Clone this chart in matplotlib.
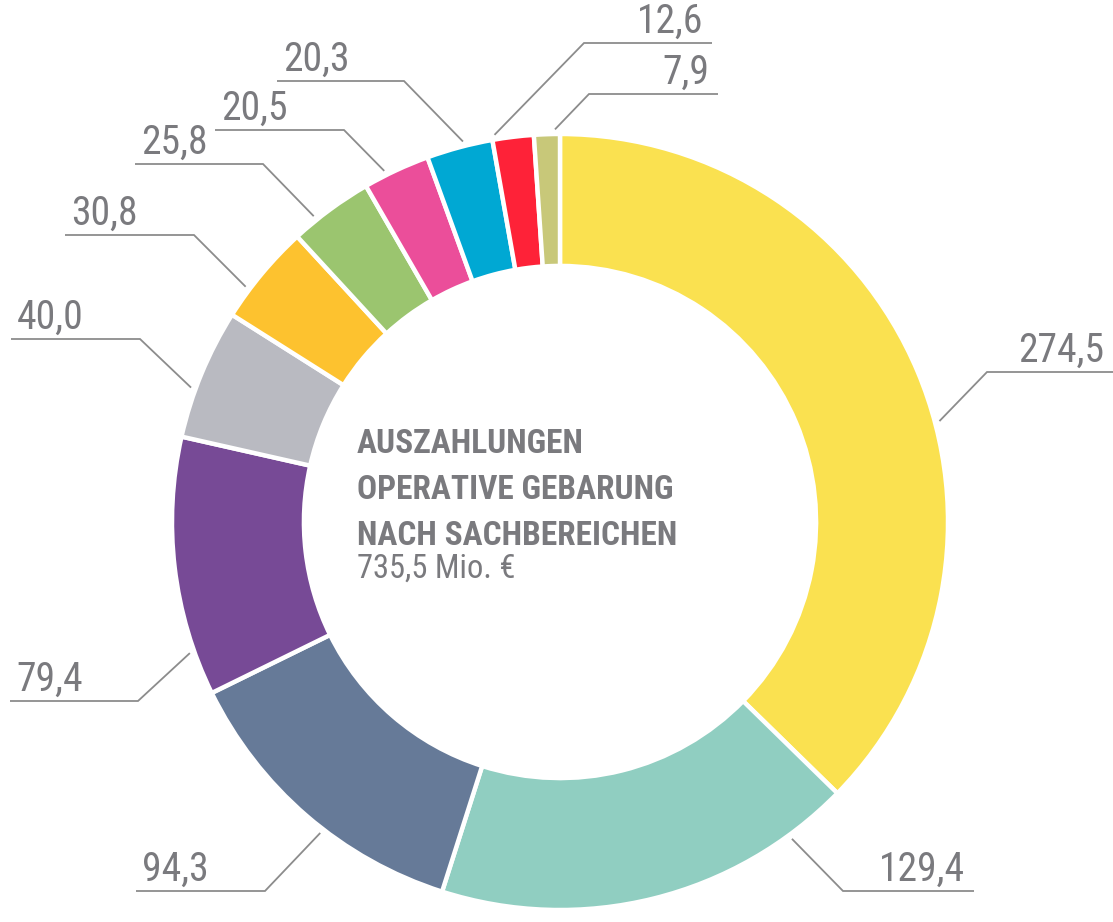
import matplotlib.pyplot as plt
import numpy as np

# Auszahlungen operative Gebarung nach Sachbereichen (Mio. EUR)
VALUES = [274.5, 129.4, 94.3, 79.4, 40.0, 30.8, 25.8, 20.5, 20.3, 12.6, 7.9]
LABELS = ["274,5", "129,4", "94,3", "79,4", "40,0", "30,8", "25,8", "20,5", "20,3", "12,6", "7,9"]
COLORS = [
    "#FAE150", "#90CEC1", "#667A98", "#774A96", "#B9BAC1", "#FDC22F",
    "#9BC56F", "#EB4E9A", "#00A8D3", "#FE2238", "#C8C879",
]
TITLE_LINES = ["AUSZAHLUNGEN", "OPERATIVE GEBARUNG", "NACH SACHBEREICHEN"]
TOTAL_TEXT = "735,5 Mio. \u20ac"

W, H = 1113, 922
CX, CY, R = 560, 522, 388
RING = 0.34

FONT = ["Roboto Condensed", "Liberation Sans Narrow", "Roboto", "DejaVu Sans"]
TEXT_GREY = "#7a7a7e"
LINE_GREY = "#8c8c8c"

# leader layout, in pixels of the target picture:
# (fraction along wedge, elbow x, elbow y, line end x, side)
LEADERS = [
    (0.559, 987, 372, 1113, "right"),
    (0.149, 843, 891, 974, "right"),
    (0.432, 265, 891, 136, "left"),
    (0.171, 138, 701, 10, "left"),
    (0.373, 140, 339, 11, "left"),
    (0.30, 194, 235, 65, "left"),
    (0.30, 263, 164, 135, "left"),
    (0.34, 344, 130, 215, "left"),
    (0.57, 404, 81, 277, "left"),
    (0.07, 584, 43, 712, "right"),
    (0.81, 589, 94, 718, "right"),
]


def py(y):
    """Flip a picture y (from top) into axis y (from bottom)."""
    return H - y


fig = plt.figure(figsize=(W / 100, H / 100), dpi=100)
ax = fig.add_axes([0, 0, 1, 1])

wedges, _ = ax.pie(
    VALUES,
    colors=COLORS,
    startangle=90,
    counterclock=False,
    radius=R,
    center=(CX, py(CY)),
    wedgeprops=dict(width=R * RING, edgecolor="white", linewidth=3.2),
)

for wedge, label, (frac, ex, ey, lx, side) in zip(wedges, LABELS, LEADERS):
    ang = np.deg2rad(wedge.theta2 - frac * (wedge.theta2 - wedge.theta1))
    ax_x = CX + 1.012 * R * np.cos(ang)
    ax_y = py(CY) + 1.012 * R * np.sin(ang)
    ax.plot([ax_x, ex, lx], [ax_y, py(ey), py(ey)], color=LINE_GREY, lw=1.3,
            solid_capstyle="butt", solid_joinstyle="miter")
    if side == "left":
        ax.text(lx + 6, py(ey) + 10, label, ha="left", va="baseline",
                fontsize=28.5, color=TEXT_GREY, family=FONT, fontstretch="condensed")
    else:
        ax.text(lx - 9, py(ey) + 10, label, ha="right", va="baseline",
                fontsize=28.5, color=TEXT_GREY, family=FONT, fontstretch="condensed")

for i, line in enumerate(TITLE_LINES):
    ax.text(357, py(453 + 46 * i), line, ha="left", va="baseline",
            fontsize=24, fontweight="bold", color=TEXT_GREY, family=FONT,
            fontstretch="condensed")
ax.text(357, py(578), TOTAL_TEXT, ha="left", va="baseline",
        fontsize=23.5, color=TEXT_GREY, family=FONT, fontstretch="condensed")

ax.set_xlim(0, W)
ax.set_ylim(0, H)
ax.set_aspect("equal")
ax.axis("off")

fig.savefig("out.png", dpi=100, facecolor="white")
